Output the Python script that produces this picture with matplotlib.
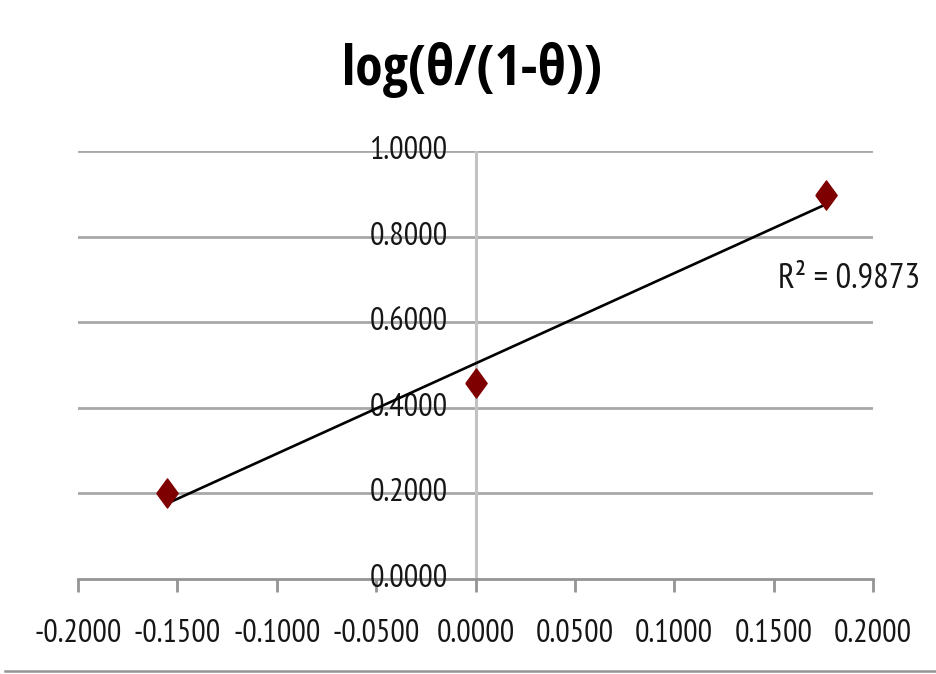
import numpy as np
import matplotlib
matplotlib.use("Agg")
import matplotlib.pyplot as plt
from matplotlib.lines import Line2D

plt.rcParams['font.family'] = ['PT Sans Narrow', 'DejaVu Sans']

title = "log(θ/(1-θ))"
x_vals = [-0.155, 0.0, 0.1764]
y_vals = [0.201, 0.458, 0.897]
r2_label = "R² = 0.9873"
x_ticks = [-0.20, -0.15, -0.10, -0.05, 0.0, 0.05, 0.10, 0.15, 0.20]
y_ticks = [0.0, 0.2, 0.4, 0.6, 0.8, 1.0]

W, H = 936, 674
fig = plt.figure(figsize=(W / 100, H / 100), dpi=100)
L, R, T, B = 78, 873, 151, 579
ax = fig.add_axes([L / W, 1 - B / H, (R - L) / W, (B - T) / H])
ax.set_xlim(-0.2, 0.2)
ax.set_ylim(0.0, 1.0)

grid_c = '#a8a8a8'
vline_c = '#c2c2c2'
axis_c = '#949494'
text_c = '#161616'
fs = 23

for s in ['top', 'right', 'left']:
    ax.spines[s].set_visible(False)
ax.spines['bottom'].set_color(axis_c)
ax.spines['bottom'].set_linewidth(2.0)

ax.set_yticks(y_ticks)
ax.set_xticks(x_ticks)
ax.set_yticklabels([])
ax.yaxis.set_ticks_position('none')
for yv in y_ticks[1:]:
    ax.axhline(yv, color=grid_c, lw=2.0, zorder=1)
ax.axvline(0.0, color=vline_c, lw=2.2, zorder=1)
for yv in y_ticks:
    ax.text(-0.014, yv, f"{yv:.4f}", ha='right', va='center', fontsize=fs,
            color=text_c, zorder=3)

ax.set_xticklabels([f"{v:.4f}" for v in x_ticks], fontsize=fs, color=text_c)
ax.tick_params(axis='x', direction='out', length=9, width=2.0, color=axis_c, pad=20)

# trendline
coef = np.polyfit(x_vals, y_vals, 1)
xs = np.array([min(x_vals), max(x_vals)])
ax.plot(xs, np.polyval(coef, xs), color='black', lw=1.9, zorder=4)

diamond = [(-0.73, 0), (0, 1), (0.73, 0), (0, -1), (-0.73, 0)]
ax.plot(x_vals, y_vals, linestyle='none', marker=diamond, markersize=21,
        color='#7f0000', markeredgecolor='#7f0000', zorder=5, clip_on=False)

ax.text(0.152, 0.703, r2_label, ha='left', va='center', fontsize=25, color=text_c)

fig.text(472 / W, 1 - 70 / H, title, ha='center', va='center', fontsize=40,
         fontweight='bold', color='black', family=['Open Sans Condensed', 'DejaVu Sans'])

fig.add_artist(Line2D([5 / W, 1.0], [1 - 671 / H, 1 - 671 / H], color=axis_c, lw=1.8,
                      transform=fig.transFigure))

fig.savefig('out.png', dpi=100)
